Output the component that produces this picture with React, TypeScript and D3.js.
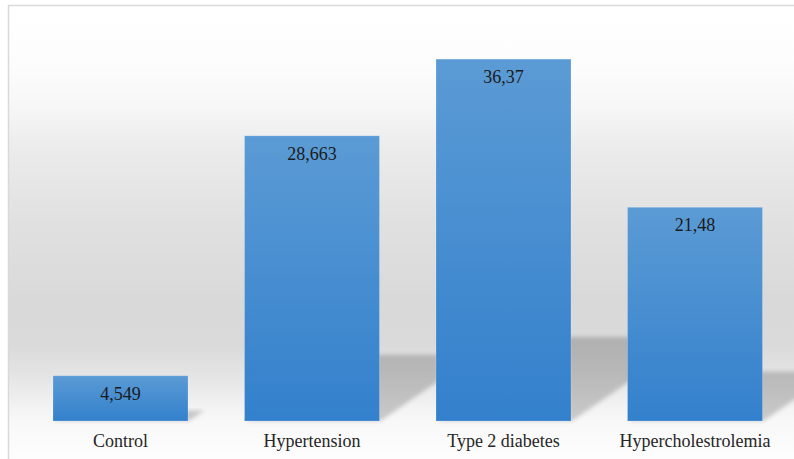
import React from "react";
import * as d3 from "d3";

const categories = ["Control", "Hypertension", "Type 2 diabetes", "Hypercholestrolemia"];
const values = [4.549, 28.663, 36.37, 21.48];
const valueLabels = ["4,549", "28,663", "36,37", "21,48"];

const W = 794;
const H = 459;
const baseY = 421;
const topY = 23;
const SHADOW_SY = 0.232;
const SHADOW_K = 1.45;

export default function App() {
  const x = d3
    .scaleBand<string>()
    .domain(categories)
    .range([24.75, 790.75])
    .paddingInner(0.295)
    .paddingOuter(0.1475);
  const y = d3.scaleLinear().domain([0, 40]).range([baseY, topY]);

  const bgStops: [number, string][] = [
    [5, "#ffffff"],
    [60, "#fdfdfd"],
    [110, "#f6f6f6"],
    [150, "#ebebeb"],
    [220, "#e1e1e1"],
    [300, "#d9d9d9"],
    [345, "#dadada"],
    [380, "#e6e6e6"],
    [410, "#f4f4f4"],
    [421, "#f8f8f8"],
    [459, "#fdfdfd"],
  ];

  return (
    <svg
      width={W}
      height={H}
      style={{ position: "absolute", left: 0, top: 0, display: "block" }}
      fontFamily="'Liberation Serif', 'Times New Roman', serif"
    >
      <defs>
        <linearGradient id="bg" gradientUnits="userSpaceOnUse" x1="0" y1="5" x2="0" y2="459">
          {bgStops.map(([py, c], i) => (
            <stop key={i} offset={(py - 5) / (459 - 5)} stopColor={c} />
          ))}
        </linearGradient>
        <linearGradient id="bar" x1="0" y1="0" x2="0" y2="1">
          <stop offset="0" stopColor="#5b9bd5" />
          <stop offset="1" stopColor="#3380cc" />
        </linearGradient>
        <filter id="blur" x="-20%" y="-20%" width="140%" height="140%">
          <feGaussianBlur stdDeviation="2" />
        </filter>
        <clipPath id="area">
          <rect x={9} y={6} width={W} height={H} />
        </clipPath>
      </defs>
      <rect x={0} y={0} width={W} height={H} fill="#ffffff" />
      <rect x={8.5} y={5.5} width={800} height={470} fill="url(#bg)" stroke="#d9d9d9" strokeWidth={1.5} />
      <g clipPath="url(#area)">
        {categories.map((c, i) => {
          const x0 = x(c)!;
          const x1 = x0 + x.bandwidth();
          const hs = (baseY - y(values[i])) * SHADOW_SY;
          const dx = hs * SHADOW_K;
          const pts = [
            [x0 + 1, baseY],
            [x1 + 1, baseY],
            [x1 + 1 + dx, baseY - hs],
            [x0 + 1 + dx, baseY - hs],
          ];
          return (
            <polygon
              key={c}
              points={pts.map((p) => p.join(",")).join(" ")}
              fill="#000"
              fillOpacity={0.19}
              filter="url(#blur)"
            />
          );
        })}
        {categories.map((c, i) => (
          <rect
            key={c}
            x={x(c)}
            y={y(values[i])}
            width={x.bandwidth()}
            height={baseY - y(values[i])}
            fill="url(#bar)"
            stroke="#ffffff"
            strokeOpacity={0.2}
            strokeWidth={1}
          />
        ))}
        {categories.map((c, i) => (
          <text
            key={c}
            x={x(c)! + x.bandwidth() / 2}
            y={y(values[i]) + 24}
            textAnchor="middle"
            fontSize={18}
            fill="#1a1a1a"
          >
            {valueLabels[i]}
          </text>
        ))}
        {categories.map((c) => (
          <text
            key={c}
            x={x(c)! + x.bandwidth() / 2}
            y={447}
            textAnchor="middle"
            fontSize={18}
            fill="#262626"
          >
            {c}
          </text>
        ))}
      </g>
    </svg>
  );
}
